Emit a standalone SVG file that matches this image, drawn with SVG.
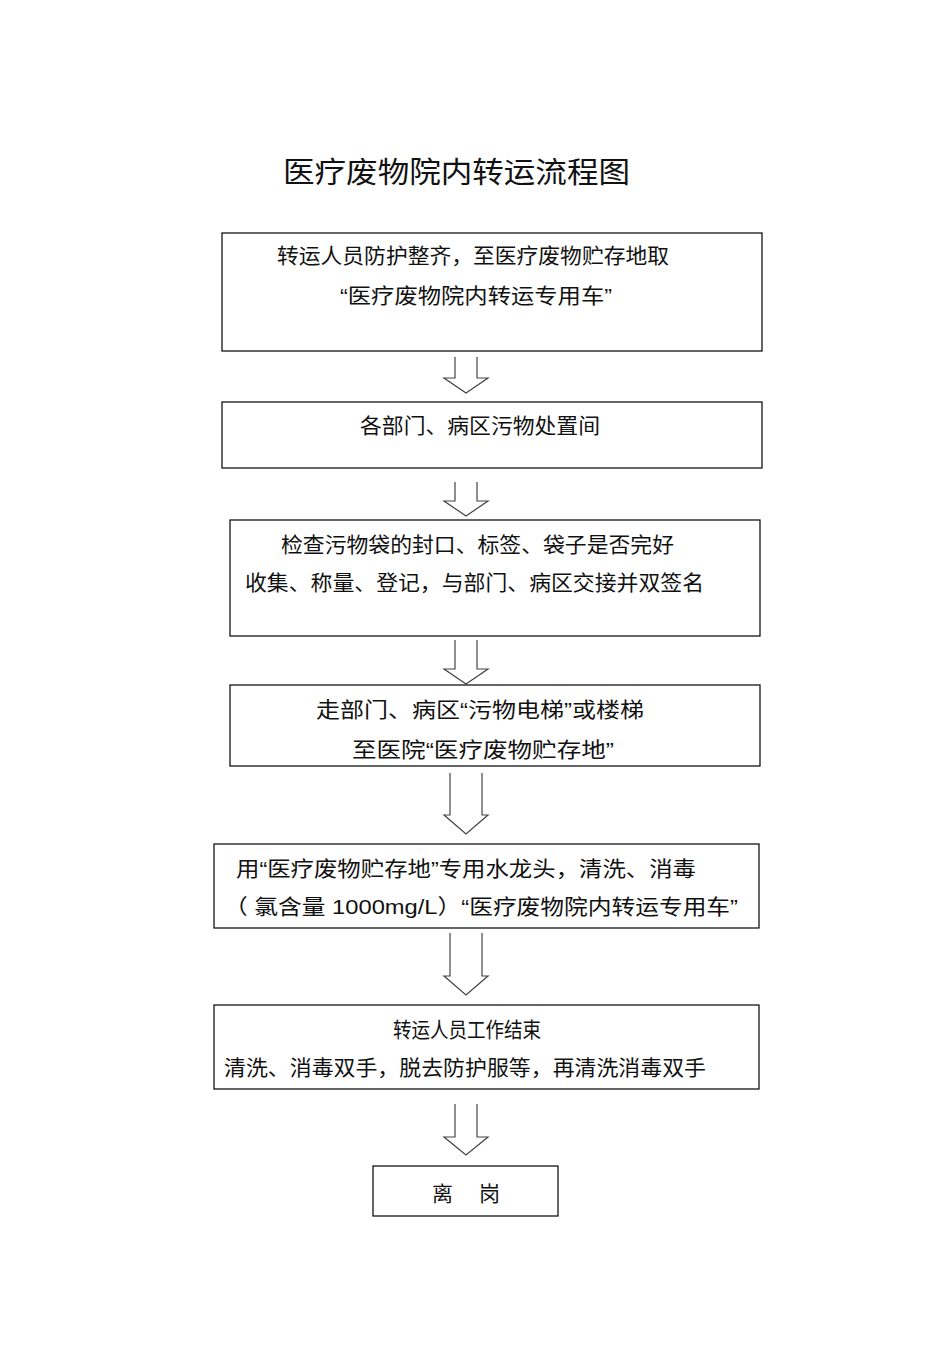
<svg xmlns="http://www.w3.org/2000/svg" width="950" height="1345" viewBox="0 0 950 1345">
<style>
.b{fill:#fff;stroke:#000;stroke-width:1.2}
text{font-family:"Liberation Sans","Noto Sans CJK SC",sans-serif;font-size:21px;fill:#111}
text.t{font-size:29px}
.a{fill:none;stroke:#444;stroke-width:1.2}
</style>
<rect width="950" height="1345" fill="#fff"/>
<text class="t" x="283" y="183" textLength="347" lengthAdjust="spacingAndGlyphs">医疗废物院内转运流程图</text>
<g id="n1"><rect class="b" x="222" y="233" width="540" height="118"/><text x="277" y="263" textLength="392" lengthAdjust="spacingAndGlyphs">转运人员防护整齐，至医疗废物贮存地取</text><text x="340" y="303" textLength="272" lengthAdjust="spacingAndGlyphs">“医疗废物院内转运专用车”</text></g>
<g id="n2"><rect class="b" x="222" y="402" width="540" height="66"/><text x="360" y="433" textLength="240" lengthAdjust="spacingAndGlyphs">各部门、病区污物处置间</text></g>
<g id="n3"><rect class="b" x="230" y="520" width="530" height="116"/><text x="281" y="552" textLength="393" lengthAdjust="spacingAndGlyphs">检查污物袋的封口、标签、袋子是否完好</text><text x="245" y="590" textLength="459" lengthAdjust="spacingAndGlyphs">收集、称量、登记，与部门、病区交接并双签名</text></g>
<g id="n4"><rect class="b" x="230" y="685" width="530" height="81"/><text x="316" y="717" textLength="328" lengthAdjust="spacingAndGlyphs">走部门、病区“污物电梯”或楼梯</text><text x="352" y="757" textLength="262" lengthAdjust="spacingAndGlyphs">至医院“医疗废物贮存地”</text></g>
<g id="n5"><rect class="b" x="214" y="844" width="545" height="84"/><text x="236" y="876" textLength="460" lengthAdjust="spacingAndGlyphs">用“医疗废物贮存地”专用水龙头，清洗、消毒</text><text x="224" y="914" textLength="514" lengthAdjust="spacingAndGlyphs">（  氯含量  1000mg/L）“医疗废物院内转运专用车”</text></g>
<g id="n6"><rect class="b" x="214" y="1005" width="545" height="84"/><text x="393" y="1037" textLength="148" lengthAdjust="spacingAndGlyphs">转运人员工作结束</text><text x="224" y="1075" textLength="482" lengthAdjust="spacingAndGlyphs">清洗、消毒双手，脱去防护服等，再清洗消毒双手</text></g>
<g id="n7"><rect class="b" x="373" y="1166" width="185" height="50"/><text x="432" y="1201" textLength="68">离    岗</text></g>
<g id="connectors">
<path class="a" d="M455,357V378H444L466,393L488,378H477V357"/>
<path class="a" d="M455,482V501H444L466,516L488,501H477V482"/>
<path class="a" d="M455,640V669H444L466,684L488,669H477V640"/>
<path class="a" d="M450,773V815H444L466,834L488,815H482V773"/>
<path class="a" d="M450,933V976H444L466,995L488,976H482V933"/>
<path class="a" d="M455,1104V1137H444L466,1155L488,1137H477V1104"/>
</g>
</svg>
